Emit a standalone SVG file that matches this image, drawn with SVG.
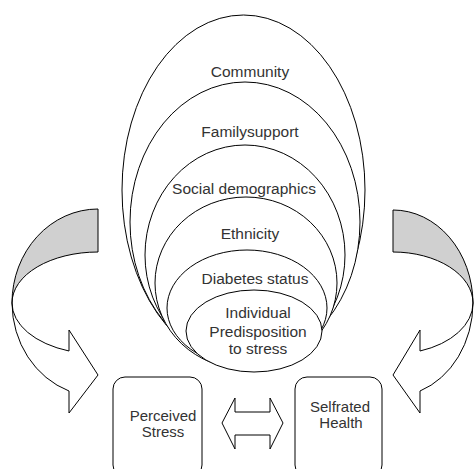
<svg xmlns="http://www.w3.org/2000/svg" width="474" height="469" viewBox="0 0 474 469">
<style>
.e{fill:#fff;stroke:#000;stroke-width:1}
.g{fill:#d0d0d0;stroke:#000;stroke-width:1}
.w{fill:#fff;stroke:#000;stroke-width:1}
.b{fill:#fff;stroke:#000;stroke-width:1}
text{font-family:"Liberation Sans",Arial,sans-serif;font-size:15.5px;fill:#333;text-anchor:middle}
.s{font-size:15px}
</style>
<rect width="474" height="469" fill="#fff"/>
<g id="connectors">
<g id="left-curved-arrow">
<path class="g" d="M98,209 A86,94 0 0,0 12,303 A86,51 0 0,1 98,252 Z"/>
<path class="w" d="M12,303 A86,94 0 0,0 69,391 L69,413 L98,375 L69,330 L69,351 A86,51 0 0,1 12,303 Z"/>
</g>
<g id="right-curved-arrow">
<path class="g" d="M393,210 A80,94 0 0,1 473,303 A80,51 0 0,0 393,252 Z"/>
<path class="w" d="M473,303 A80,94 0 0,1 420,391 L420,413 L393,375 L420,330 L420,351 A80,51 0 0,0 473,303 Z"/>
</g>
<path id="double-arrow" class="w" d="M222,423 L235,398 L235,412 L270,412 L270,398 L283,423 L270,449 L270,435 L235,435 L235,449 Z"/>
</g>
<g id="community"><ellipse class="e" cx="243.5" cy="190" rx="121.5" ry="175"/><text x="250" y="77">Community</text></g>
<g id="family"><ellipse class="e" cx="245" cy="222" rx="115" ry="140"/><text x="250" y="137">Familysupport</text></g>
<g id="social"><ellipse class="e" cx="245" cy="255" rx="100" ry="110"/><text x="244" y="194">Social demographics</text></g>
<g id="ethnicity"><ellipse class="e" cx="246" cy="283" rx="91" ry="86"/><text x="250" y="239">Ethnicity</text></g>
<g id="diabetes"><ellipse class="e" cx="247" cy="308" rx="80" ry="58"/><text x="255" y="284">Diabetes status</text></g>
<g id="individual"><ellipse class="e" cx="254" cy="331" rx="68" ry="41"/><text x="258" y="318">Individual</text><text x="258" y="337">Predisposition</text><text x="258" y="354">to stress</text></g>
<g id="perceived-stress"><rect class="b" x="113" y="377" width="89" height="100" rx="12"/><text class="s" x="163" y="421">Perceived</text><text class="s" x="163" y="437">Stress</text></g>
<g id="self-rated-health"><rect class="b" x="295" y="377" width="87" height="100" rx="12"/><text class="s" x="340" y="412">Selfrated</text><text class="s" x="341" y="428">Health</text></g>
</svg>
